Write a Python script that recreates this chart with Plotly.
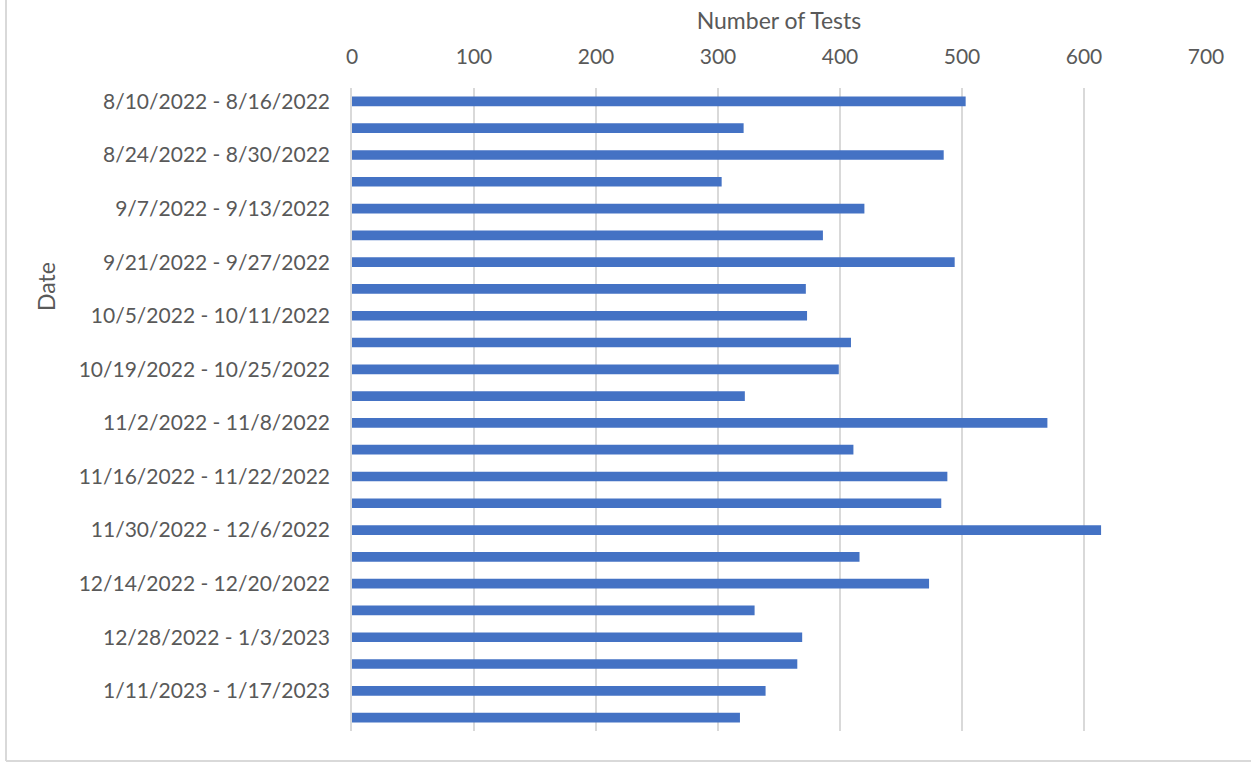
import plotly.graph_objects as go

# Weekly test counts
weeks = [
    "8/10/2022 - 8/16/2022", "8/17/2022 - 8/23/2022", "8/24/2022 - 8/30/2022",
    "8/31/2022 - 9/6/2022", "9/7/2022 - 9/13/2022", "9/14/2022 - 9/20/2022",
    "9/21/2022 - 9/27/2022", "9/28/2022 - 10/4/2022", "10/5/2022 - 10/11/2022",
    "10/12/2022 - 10/18/2022", "10/19/2022 - 10/25/2022", "10/26/2022 - 11/1/2022",
    "11/2/2022 - 11/8/2022", "11/9/2022 - 11/15/2022", "11/16/2022 - 11/22/2022",
    "11/23/2022 - 11/29/2022", "11/30/2022 - 12/6/2022", "12/7/2022 - 12/13/2022",
    "12/14/2022 - 12/20/2022", "12/21/2022 - 12/27/2022", "12/28/2022 - 1/3/2023",
    "1/4/2023 - 1/10/2023", "1/11/2023 - 1/17/2023", "1/18/2023 - 1/24/2023",
]
tests = [503, 321, 485, 303, 420, 386, 494, 372, 373, 409, 399, 322,
         570, 411, 488, 483, 614, 416, 473, 330, 369, 365, 339, 318]

# Excel only shows every other label
shown_labels = weeks[::2]

x_ticks = [0, 100, 200, 300, 400, 500, 600, 700]

W, H = 1251, 762
L, R, T, B = 352, 45, 88, 31
pw, ph = W - L - R, H - T - B

fig = go.Figure(go.Bar(
    x=tests, y=weeks, orientation="h",
    marker=dict(color="#4472C4", line=dict(width=0)),
    width=0.36,
))

font = "Lato, 'Open Sans', sans-serif"
grey = "#595959"

fig.update_layout(
    width=W, height=H,
    margin=dict(l=L, r=R, t=T, b=B),
    paper_bgcolor="white", plot_bgcolor="white",
    font=dict(family=font, size=21, color=grey),
    showlegend=False,
    xaxis=dict(
        side="top", range=[0, 700], tickvals=x_ticks,
        showgrid=True, gridcolor="#d9d9d9", gridwidth=1.5,
        zeroline=False, showline=False,
        ticks="", ticklabelstandoff=19,
        title=dict(text="Number of Tests", font=dict(size=23, color=grey), standoff=6),
    ),
    yaxis=dict(
        type="category", autorange="reversed",
        tickvals=shown_labels, ticktext=shown_labels,
        showgrid=False, zeroline=False,
        showline=True, linecolor="#d9d9d9", linewidth=1.5,
        ticks="", ticklabelstandoff=16,
    ),
)

# "Date" title sits above the axis middle in the original
fig.add_annotation(
    text="Date", textangle=-90, showarrow=False,
    xref="paper", yref="paper",
    x=(46 - L) / pw, y=1 - (287 - T) / ph,
    xanchor="center", yanchor="middle",
    font=dict(size=23, color=grey),
)

# light chart border, only left and bottom edges show
bx0 = (6 - L) / pw
by0 = -(761 - (H - B)) / ph
fig.add_shape(type="line", xref="paper", yref="paper",
              x0=bx0, x1=bx0, y0=by0, y1=1 + T / ph,
              line=dict(color="#d9d9d9", width=2))
fig.add_shape(type="line", xref="paper", yref="paper",
              x0=bx0, x1=1 + R / pw, y0=by0, y1=by0,
              line=dict(color="#d9d9d9", width=2))

# drop the browser's default body margin so the chart fills the window
fig.write_html("out.html", config={"displayModeBar": False},
               post_script="document.body.style.margin='0';")
